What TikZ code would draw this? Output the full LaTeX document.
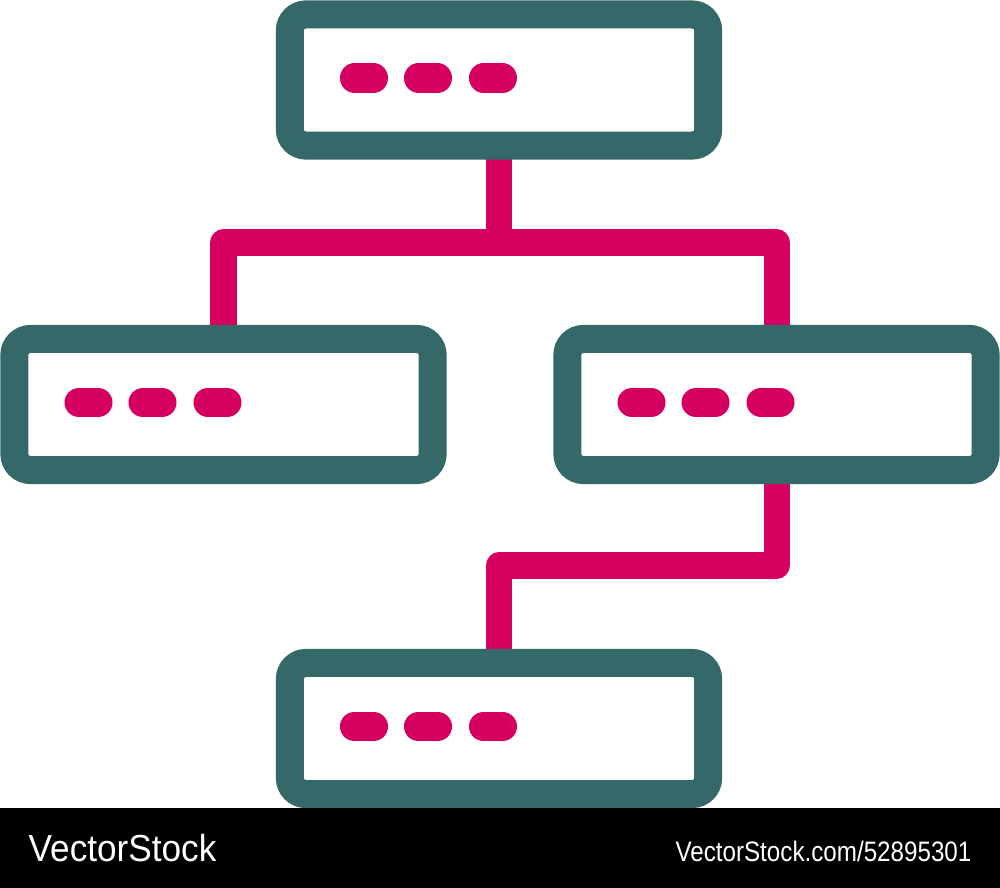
\documentclass[tikz,border=0pt]{standalone}
\usepackage{fontspec}
\setmainfont{Liberation Sans}
\usetikzlibrary{backgrounds,calc}
\definecolor{teal}{HTML}{356868}
\definecolor{mag}{HTML}{D5005F}
\begin{document}
\begin{tikzpicture}[x=0.01cm,y=-0.01cm,
  box/.style={draw=teal,fill=white,line width=0.28cm,rounded corners=0.16cm,
    minimum width=4.18cm,minimum height=1.31cm,inner sep=0pt},
  conn/.style={draw=mag,line width=0.26cm,line join=round},
  dot/.style={draw=mag,line width=0.29cm,line cap=round}]
\useasboundingbox (0,0) rectangle (1000,888);
\node[box] (top) at (499,80) {};
\node[box] (left) at (223.5,404.5) {};
\node[box] (right) at (776.5,404.5) {};
\node[box] (bottom) at (499,728.5) {};
\coordinate (j1) at (500,242.5);
\coordinate (j2) at (640,565.5);
\begin{scope}[on background layer]
\draw[conn] (top.center) -- (top.center |- j1);
\draw[conn] (left.center) |- (j1) -| (right.center);
\draw[conn] (right.center) |- (j2) -| (bottom.center);
\end{scope}
\foreach \b in {top,left,right,bottom}{
  \foreach \dx in {-135,-71,-6}{
    \draw[dot] ($(\b.center)+(\dx-9.5,-2)$) -- ($(\b.center)+(\dx+9.5,-2)$);
  }
}
\fill[black] (0,808) rectangle (1000,888);
\node[anchor=base west,inner sep=0pt,text=white,font=\fontsize{10.7pt}{12pt}\selectfont,xscale=0.935] (wm1) at (28,861) {VectorStock};
\node[anchor=base east,inner sep=0pt,text=white,font=\fontsize{8pt}{10pt}\selectfont,xscale=0.86] (wm2) at (972,861) {VectorStock.com/52895301};
\end{tikzpicture}
\end{document}
